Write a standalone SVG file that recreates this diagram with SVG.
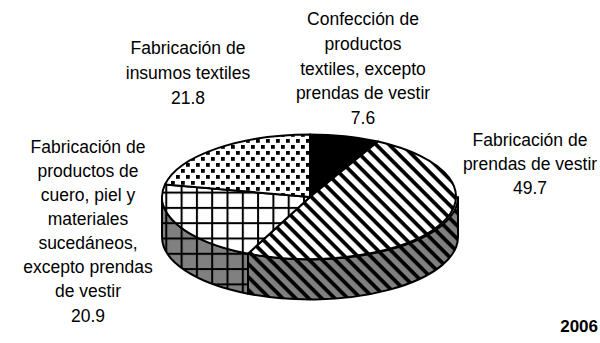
<svg xmlns="http://www.w3.org/2000/svg" width="600" height="343" viewBox="0 0 600 343">
<style>
.lbl{font-family:"Liberation Sans",Arial,sans-serif;font-size:17.5px;fill:#000;text-anchor:middle}
.yr{font-family:"Liberation Sans",Arial,sans-serif;font-size:17px;font-weight:bold;fill:#000;text-anchor:end}
.edge{stroke:#000;stroke-width:2;stroke-linejoin:round}
</style>
<defs>
<pattern id="stripes" patternUnits="userSpaceOnUse" width="9.2" height="9.2" patternTransform="rotate(45)">
<rect x="0" y="0" width="9.2" height="9.2" fill="#fff"/>
<rect x="0" y="0" width="9.2" height="3.8" fill="#000"/>
</pattern>
<pattern id="stripesGray" patternUnits="userSpaceOnUse" width="9.2" height="9.2" patternTransform="rotate(45)">
<rect x="0" y="0" width="9.2" height="9.2" fill="#808080"/>
<rect x="0" y="0" width="9.2" height="3.8" fill="#000"/>
</pattern>
<pattern id="grid" patternUnits="userSpaceOnUse" x="12.3" y="8" width="15.3" height="15.3">
<rect x="0" y="0" width="15.3" height="15.3" fill="#fff"/>
<rect x="0" y="0" width="2" height="15.3" fill="#000"/>
<rect x="0" y="0" width="15.3" height="2" fill="#000"/>
</pattern>
<pattern id="gridGray" patternUnits="userSpaceOnUse" x="12.3" y="8" width="15.3" height="15.3">
<rect x="0" y="0" width="15.3" height="15.3" fill="#808080"/>
<rect x="0" y="0" width="2" height="15.3" fill="#000"/>
<rect x="0" y="0" width="15.3" height="2" fill="#000"/>
</pattern>
<pattern id="dots" patternUnits="userSpaceOnUse" width="10" height="12">
<rect x="0" y="0" width="10" height="12" fill="#fff"/>
<rect x="1" y="1" width="3.8" height="3.8" fill="#000"/>
<rect x="6" y="7" width="3.8" height="3.8" fill="#000"/>
</pattern>
</defs>
<rect x="0" y="0" width="600" height="343" fill="#fff"/>
<g id="pie">
<g id="side-prendas">
<path class="edge" fill="url(#stripesGray)" d="M458,197 A148,62.5 0 0 1 248,253.7 L248,293.7 A148,62.5 0 0 0 458,237 Z"/>
</g>
<g id="side-cuero">
<path class="edge" fill="url(#gridGray)" d="M248,253.7 A148,62.5 0 0 1 162,197 L162,237 A148,62.5 0 0 0 248,293.7 Z"/>
</g>
<g id="slice-confeccion">
<path class="edge" fill="#000" d="M310,197 L310,134.5 A148,62.5 0 0 1 378,141.5 Z"/>
</g>
<g id="slice-prendas">
<path class="edge" fill="url(#stripes)" d="M310,197 L378,141.5 A148,62.5 0 0 1 248,253.7 Z"/>
</g>
<g id="slice-cuero">
<path class="edge" fill="url(#grid)" d="M310,197 L248,253.7 A148,62.5 0 0 1 165,184.5 Z"/>
</g>
<g id="slice-insumos">
<path class="edge" fill="url(#dots)" d="M310,197 L165,184.5 A148,62.5 0 0 1 310,134.5 Z"/>
</g>
</g>
<g id="connectors"></g>
<g id="label-confeccion">
<text class="lbl" x="363" y="25">Confección de</text>
<text class="lbl" x="363" y="50">productos</text>
<text class="lbl" x="363" y="75">textiles, excepto</text>
<text class="lbl" x="363" y="99">prendas de vestir</text>
<text class="lbl" x="363" y="124">7.6</text>
</g>
<g id="label-insumos">
<text class="lbl" x="188" y="54">Fabricación de</text>
<text class="lbl" x="188" y="79">insumos textiles</text>
<text class="lbl" x="188" y="104">21.8</text>
</g>
<g id="label-prendas">
<text class="lbl" x="530" y="146">Fabricación de</text>
<text class="lbl" x="530" y="170">prendas de vestir</text>
<text class="lbl" x="530" y="194">49.7</text>
</g>
<g id="label-cuero">
<text class="lbl" x="88" y="153">Fabricación de</text>
<text class="lbl" x="88" y="177">productos de</text>
<text class="lbl" x="88" y="201">cuero, piel y</text>
<text class="lbl" x="88" y="225">materiales</text>
<text class="lbl" x="88" y="249">sucedáneos,</text>
<text class="lbl" x="88" y="273">excepto prendas</text>
<text class="lbl" x="88" y="297">de vestir</text>
<text class="lbl" x="88" y="322">20.9</text>
</g>
<g id="year">
<text class="yr" x="598" y="332">2006</text>
</g>
</svg>
